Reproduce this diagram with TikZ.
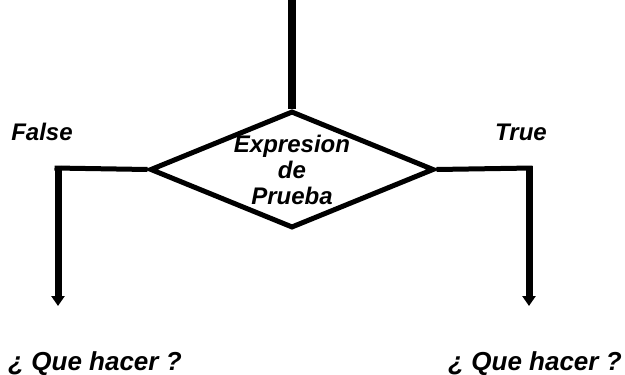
\documentclass[tikz,border=0pt]{standalone}
\usepackage{fontspec}
\setmainfont{Liberation Sans}
\usetikzlibrary{arrows.meta,shapes.geometric}
\begin{document}
\begin{tikzpicture}[x=1pt,y=-1pt,
  lbl/.style={font=\fontsize{24}{26}\selectfont\bfseries\itshape, inner sep=0pt},
  flow/.style={line width=7pt},
  hflow/.style={line width=5pt},
  tip/.style={-{Triangle[width=13pt,length=10pt]}}]
\useasboundingbox (0,0) rectangle (625,375);
\node[draw, line width=5pt, diamond, minimum width=284pt, minimum height=117pt, inner sep=0pt] (d) at (292,169.5) {};
\node[lbl, align=center, font=\fontsize{24}{26}\selectfont\bfseries\itshape] (t) at (292,170) {Expresion\\de\\Prueba};
\coordinate (top) at (292,0);
\coordinate (lc) at (58,168);
\coordinate (le) at (58,306);
\coordinate (rc) at (529,168);
\coordinate (re) at (529,306);
\draw[line width=8pt] (top) -- (d.north);
\draw[hflow] (d.west) -- ([xshift=-3.5pt]lc);
\draw[flow, tip] ([yshift=2.5pt]lc) -- (le);
\draw[hflow] (d.east) -- ([xshift=3.5pt]rc);
\draw[flow, tip] ([yshift=2.5pt]rc) -- (re);
\node[lbl] (f) at (42,132) {False};
\node[lbl] (tr) at (521,132) {True};
\node[lbl, font=\fontsize{26}{28}\selectfont\bfseries\itshape] (q1) at (95,364) {¿ Que hacer ?};
\node[lbl, font=\fontsize{26}{28}\selectfont\bfseries\itshape] (q2) at (535,364) {¿ Que hacer ?};
\end{tikzpicture}
\end{document}
